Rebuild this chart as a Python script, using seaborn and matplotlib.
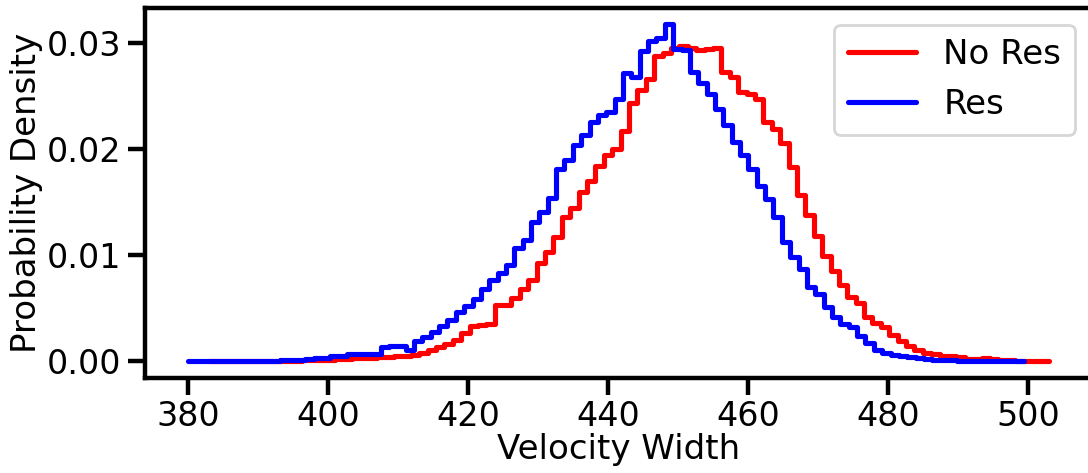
import numpy as np
import pandas as pd
import matplotlib
matplotlib.use("Agg")
import matplotlib.pyplot as plt
import seaborn as sns

# Bin edges (100 bins each)
no_res_edges = np.linspace(383.0, 503.0, 101)
res_edges = np.linspace(380.0, 499.5, 101)

# Probability density per bin
no_res_density = [
    0, 0, 0, 0, 0, 0, 0, 0.00002, 0.00003, 0.00004,
    0.00005, 0.00008, 0.0001, 0.0001, 0.00015, 0.0002, 0.00025, 0.0003, 0.0003, 0.0003,
    0.00035, 0.0004, 0.0005, 0.0005, 0.0006, 0.0008, 0.0011, 0.0013, 0.0016, 0.002,
    0.0027, 0.0033, 0.0034, 0.0035, 0.0053, 0.0053, 0.006, 0.0068, 0.0077, 0.0093,
    0.0103, 0.0117, 0.0136, 0.0145, 0.016, 0.017, 0.0184, 0.0195, 0.02, 0.0217,
    0.0244, 0.0256, 0.0266, 0.0288, 0.0291, 0.0296, 0.0298, 0.0296, 0.0294, 0.0295,
    0.0296, 0.0273, 0.0268, 0.0254, 0.0252, 0.0248, 0.0226, 0.0219, 0.0206, 0.0183,
    0.0157, 0.0138, 0.0118, 0.0099, 0.0085, 0.0072, 0.0061, 0.0055, 0.0042, 0.0036,
    0.0032, 0.0025, 0.0019, 0.0014, 0.0011, 0.0008, 0.0007, 0.0005, 0.0005, 0.0004,
    0.0002, 0.0002, 0.0003, 0.0002, 0.0001, 0.0001, 0.00005, 0.00003, 0.00002, 0.00002,
]
res_density = [
    0, 0, 0, 0, 0, 0, 0, 0.00002, 0.00003, 0.00004,
    0.00005, 0.00008, 0.0001, 0.00015, 0.0002, 0.0003, 0.0003, 0.0005, 0.0005, 0.0007,
    0.0007, 0.0007, 0.0007, 0.0013, 0.0014, 0.0014, 0.0011, 0.0019, 0.0023, 0.0028,
    0.0033, 0.0039, 0.0046, 0.0052, 0.0059, 0.0068, 0.0077, 0.0083, 0.0091, 0.0107,
    0.0114, 0.0131, 0.0141, 0.0154, 0.0181, 0.0190, 0.0204, 0.0214, 0.0226, 0.0232,
    0.0235, 0.0248, 0.0272, 0.0268, 0.0293, 0.0302, 0.0305, 0.0318, 0.0295, 0.0294,
    0.0273, 0.0263, 0.0252, 0.0238, 0.0223, 0.0207, 0.0195, 0.0181, 0.0165, 0.0153,
    0.0136, 0.0113, 0.0098, 0.0087, 0.0070, 0.0063, 0.0051, 0.0042, 0.0035, 0.0032,
    0.0024, 0.0017, 0.0011, 0.0008, 0.0006, 0.0005, 0.0004, 0.0003, 0.0002, 0.0001,
    0.0001, 0.0001, 0.00005, 0.00005, 0.00003, 0.00002, 0.00001, 0.00001, 0.00001, 0.00001,
]

series_labels = ["No Res", "Res"]
series_colors = ["#ff0000", "#0000ff"]
x_ticks = [380, 400, 420, 440, 460, 480, 500]
y_ticks = [0.0, 0.01, 0.02, 0.03]

sns.set_theme(context="poster", style="ticks", rc={
    "axes.edgecolor": "black",
    "axes.linewidth": 3.2,
    "xtick.color": "black",
    "ytick.color": "black",
    "text.color": "black",
    "axes.labelcolor": "black",
    "xtick.major.width": 3.2,
    "ytick.major.width": 3.2,
    "xtick.major.size": 12,
    "ytick.major.size": 12,
})
plt.rcParams["font.family"] = ["DejaVu Sans"]

fig = plt.figure(figsize=(10.88, 4.73), dpi=100)
ax = fig.add_axes([0.1335, 0.2008, 0.870, 0.7832])

for edges, dens, lab, col in [
    (no_res_edges, no_res_density, series_labels[0], series_colors[0]),
    (res_edges, res_density, series_labels[1], series_colors[1]),
]:
    centers = 0.5 * (edges[:-1] + edges[1:])
    df = pd.DataFrame({"x": centers, "w": np.asarray(dens, dtype=float)})
    sns.histplot(data=df, x="x", weights="w", bins=list(edges), element="step",
                 fill=False, color=col, linewidth=3.7, label=lab, ax=ax)

ax.set_xlim(373.85, 509.15)
ax.set_ylim(-0.00159, 0.03339)
ax.set_xticks(x_ticks)
ax.set_yticks(y_ticks)
ax.set_yticklabels([f"{v:.2f}" for v in y_ticks])
ax.tick_params(axis="x", labelsize=24, pad=4)
ax.tick_params(axis="y", labelsize=24, pad=5)
ax.set_xlabel("Velocity Width", fontsize=24.5, labelpad=0)
ax.set_ylabel("Probability Density", fontsize=24.5, labelpad=3)
for s in ax.spines.values():
    s.set_visible(True)

leg = ax.legend(loc="upper right", fontsize=24.5)

fig.savefig("out.png", dpi=100)
